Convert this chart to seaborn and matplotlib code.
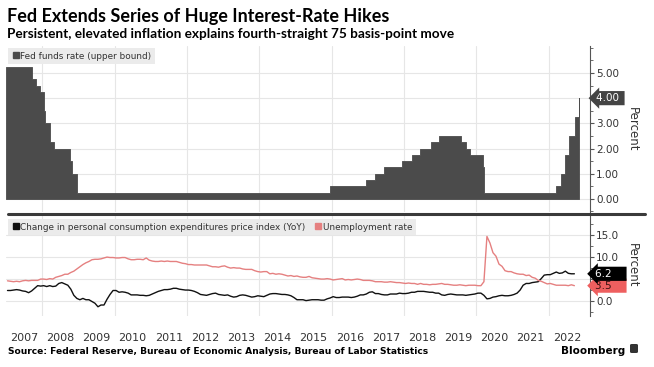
import numpy as np
import pandas as pd
import matplotlib
matplotlib.use("Agg")
import matplotlib.pyplot as plt
import matplotlib.transforms as mtransforms
from matplotlib.lines import Line2D
from matplotlib.patches import FancyBboxPatch
import seaborn as sns

# ---------------- data ----------------
title = "Fed Extends Series of Huge Interest-Rate Hikes"
subtitle = "Persistent, elevated inflation explains fourth-straight 75 basis-point move"
source = "Source: Federal Reserve, Bureau of Economic Analysis, Bureau of Labor Statistics"

fed_dates = ["2007-01-01", "2007-09-18", "2007-10-31", "2007-12-11", "2008-01-22",
             "2008-01-30", "2008-03-18", "2008-04-30", "2008-10-08", "2008-10-29",
             "2008-12-16", "2015-12-16", "2016-12-14", "2017-03-15", "2017-06-14",
             "2017-12-13", "2018-03-21", "2018-06-13", "2018-09-26", "2018-12-19",
             "2019-07-31", "2019-09-18", "2019-10-30", "2020-03-03", "2020-03-15",
             "2022-03-16", "2022-05-04", "2022-06-15", "2022-07-27", "2022-09-21",
             "2022-11-02", "2022-11-04"]
fed_rates = [5.25, 4.75, 4.50, 4.25, 3.50,
             3.00, 2.25, 2.00, 1.50, 1.00,
             0.25, 0.50, 0.75, 1.00, 1.25,
             1.50, 1.75, 2.00, 2.25, 2.50,
             2.25, 2.00, 1.75, 1.25, 0.25,
             0.50, 1.00, 1.75, 2.50, 3.25,
             4.00, 4.00]

monthly_start = "2007-01"
unemployment = [
    4.6, 4.5, 4.4, 4.5, 4.4, 4.6, 4.7, 4.6, 4.7, 4.7, 4.7, 5.0,   # 2007
    5.0, 4.9, 5.1, 5.0, 5.4, 5.6, 5.8, 6.1, 6.1, 6.5, 6.8, 7.3,   # 2008
    7.8, 8.3, 8.7, 9.0, 9.4, 9.5, 9.5, 9.6, 9.8, 10.0, 9.9, 9.9,  # 2009
    9.8, 9.8, 9.9, 9.9, 9.6, 9.4, 9.4, 9.5, 9.5, 9.4, 9.8, 9.3,   # 2010
    9.1, 9.0, 9.0, 9.1, 9.0, 9.1, 9.0, 9.0, 9.0, 8.8, 8.6, 8.5,   # 2011
    8.3, 8.3, 8.2, 8.2, 8.2, 8.2, 8.2, 8.0, 7.8, 7.8, 7.7, 7.9,   # 2012
    8.0, 7.7, 7.5, 7.6, 7.5, 7.5, 7.3, 7.2, 7.2, 7.2, 6.9, 6.7,   # 2013
    6.6, 6.7, 6.7, 6.2, 6.3, 6.1, 6.2, 6.1, 5.9, 5.7, 5.8, 5.6,   # 2014
    5.7, 5.5, 5.4, 5.4, 5.6, 5.3, 5.2, 5.1, 5.0, 5.0, 5.1, 5.0,   # 2015
    4.8, 4.9, 5.0, 5.1, 4.8, 4.9, 4.8, 4.9, 5.0, 4.9, 4.7, 4.7,   # 2016
    4.7, 4.6, 4.4, 4.4, 4.4, 4.3, 4.3, 4.4, 4.3, 4.2, 4.2, 4.1,   # 2017
    4.0, 4.1, 4.0, 4.0, 3.8, 4.0, 3.8, 3.8, 3.7, 3.8, 3.8, 3.9,   # 2018
    4.0, 3.8, 3.8, 3.7, 3.6, 3.6, 3.7, 3.6, 3.5, 3.6, 3.6, 3.6,   # 2019
    3.5, 3.5, 4.4, 14.7, 13.2, 11.0, 10.2, 8.4, 7.9, 6.9, 6.7, 6.7,  # 2020
    6.4, 6.2, 6.1, 6.1, 5.8, 5.9, 5.4, 5.2, 4.7, 4.5, 4.2, 3.9,   # 2021
    4.0, 3.8, 3.6, 3.6, 3.6, 3.6, 3.5, 3.7, 3.5,                  # 2022
]
pce_yoy = [
    2.4, 2.4, 2.5, 2.6, 2.5, 2.3, 2.2, 1.9, 2.3, 2.9, 3.5, 3.4,   # 2007
    3.5, 3.3, 3.5, 3.3, 3.4, 4.0, 4.2, 3.9, 3.6, 2.7, 1.3, 0.6,   # 2008
    0.3, 0.6, 0.3, 0.3, -0.1, -0.5, -1.3, -0.9, -0.9, 0.4, 1.5, 2.4,  # 2009
    2.4, 2.0, 2.1, 2.0, 1.8, 1.4, 1.4, 1.4, 1.3, 1.3, 1.2, 1.3,   # 2010
    1.6, 1.9, 2.2, 2.4, 2.6, 2.6, 2.7, 2.9, 2.9, 2.7, 2.6, 2.5,   # 2011
    2.5, 2.4, 2.2, 1.9, 1.5, 1.4, 1.3, 1.5, 1.7, 1.8, 1.5, 1.4,   # 2012
    1.3, 1.4, 1.1, 0.9, 1.0, 1.3, 1.4, 1.3, 1.1, 0.9, 1.0, 1.2,   # 2013
    1.1, 1.0, 1.3, 1.6, 1.7, 1.7, 1.6, 1.5, 1.5, 1.4, 1.2, 0.8,   # 2014
    0.3, 0.3, 0.3, 0.1, 0.2, 0.3, 0.3, 0.3, 0.2, 0.2, 0.5, 0.7,   # 2015
    1.0, 0.8, 0.8, 0.9, 0.9, 0.9, 0.8, 0.9, 1.1, 1.4, 1.4, 1.6,   # 2016
    2.0, 2.1, 1.7, 1.7, 1.5, 1.4, 1.4, 1.6, 1.6, 1.6, 1.8, 1.7,   # 2017
    1.7, 1.8, 2.0, 2.0, 2.2, 2.2, 2.2, 2.1, 2.0, 2.0, 1.8, 1.8,   # 2018
    1.4, 1.3, 1.5, 1.6, 1.5, 1.4, 1.4, 1.4, 1.3, 1.4, 1.5, 1.6,   # 2019
    1.8, 1.8, 1.3, 0.5, 0.6, 0.9, 1.0, 1.2, 1.3, 1.2, 1.2, 1.3,   # 2020
    1.5, 1.8, 2.5, 3.6, 4.0, 4.0, 4.2, 4.3, 4.4, 5.1, 5.9, 6.0,   # 2021
    6.0, 6.3, 6.6, 6.3, 6.4, 6.8, 6.3, 6.2, 6.2,                  # 2022
]

year_labels = [str(y) for y in range(2007, 2023)]
fed_label = "Fed funds rate (upper bound)"
pce_label = "Change in personal consumption expenditures price index (YoY)"
unemp_label = "Unemployment rate"
top_ticks = [0, 1, 2, 3, 4, 5]
top_tick_labels = ["0.00", "1.00", "2.00", "3.00", "", "5.00"]
bottom_ticks = [0, 5, 10, 15]
bottom_tick_labels = ["0.0", "", "10.0", "15.0"]

# ---------------- helpers ----------------
def to_decimal_year(dates):
    idx = pd.DatetimeIndex(pd.to_datetime(dates))
    days = np.where(idx.is_leap_year, 366, 365)
    return np.asarray(idx.year + (idx.dayofyear - 1) / days, dtype=float)

fed_df = pd.DataFrame({"x": to_decimal_year(fed_dates), "rate": fed_rates})

months = pd.period_range(monthly_start, periods=len(unemployment), freq="M")
mx = np.array([p.year + (p.month - 0.5) / 12 for p in months])
line_df = pd.concat([
    pd.DataFrame({"x": mx, "value": pce_yoy, "series": pce_label}),
    pd.DataFrame({"x": mx, "value": unemployment, "series": unemp_label}),
], ignore_index=True)

# ---------------- style ----------------
sns.set_style("white")
plt.rcParams["font.family"] = ["DejaVu Sans"]

BAR = "#4b4b4b"
PCE = "#111111"
UNEMP = "#e58080"
UNEMP_TAG = "#ee5f5f"
GRID = "#e6e6e6"
AX = "#555555"
TXT = "#333333"
HEAD_FONT = ["Lato", "DejaVu Sans"]

W, H = 654, 367
fig = plt.figure(figsize=(W / 100, H / 100), dpi=100)
fig.patch.set_facecolor("white")

L, R = 6, 590
ax1 = fig.add_axes([L / W, 1 - 212 / H, (R - L) / W, 166 / H])
ax2 = fig.add_axes([L / W, 1 - 316 / H, (R - L) / W, 102 / H])

xmin, xmax = 2007.0, 2023.14
for ax in (ax1, ax2):
    ax.set_xlim(xmin, xmax)
    for s in ("top", "left", "bottom"):
        ax.spines[s].set_visible(False)
    ax.spines["right"].set_color(AX)
    ax.spines["right"].set_linewidth(0.8)
    ax.yaxis.tick_right()
    ax.yaxis.set_label_position("right")
    ax.set_xticks(list(range(2008, 2023, 2)))
    ax.set_xticks([y + 0.5 for y in range(2007, 2023)], minor=True)
    ax.tick_params(axis="x", which="both", length=0)
    ax.grid(True, which="major", color=GRID, linewidth=0.8)
    ax.set_axisbelow(True)
    ax.tick_params(axis="y", which="major", direction="out", length=3,
                   color=AX, labelsize=7.5, labelcolor=TXT, pad=1.5, width=0.8)
    ax.tick_params(axis="y", which="minor", direction="out", length=2,
                   color=AX, width=0.6)
    ax.set_xlabel("")

# ---- top panel: fed funds step area ----
ax1.fill_between(fed_df["x"], fed_df["rate"], step="post", facecolor=BAR,
                 edgecolor=BAR, linewidth=0.6)
ax1.set_ylim(-0.52, 6.07)
ax1.set_yticks(top_ticks)
ax1.set_yticklabels(top_tick_labels)
ax1.set_yticks(np.arange(-0.5, 6.01, 0.5), minor=True)
ax1.tick_params(axis="x", labelbottom=False)
ax1.set_ylabel("Percent", rotation=270, fontsize=8.5, color=TXT, labelpad=14)

h1 = [Line2D([], [], marker="s", linestyle="none", color=BAR, markersize=4.5)]
leg1 = ax1.legend(h1, [fed_label], loc="upper left",
                  bbox_to_anchor=(2 / (R - L), 1 - 2 / 166), frameon=True,
                  facecolor="#ebebeb", edgecolor="none", framealpha=1,
                  fancybox=False, fontsize=6.4, handletextpad=0.1,
                  handlelength=0.9, borderpad=0.4, borderaxespad=0)
for t in leg1.get_texts():
    t.set_color(TXT)

# ---- bottom panel: lines ----
sns.lineplot(data=line_df, x="x", y="value", hue="series",
             palette={pce_label: PCE, unemp_label: UNEMP},
             estimator=None, linewidth=1.0, legend=False, ax=ax2)
ax2.set_xlabel("")
ax2.set_ylim(-3.4, 19.8)
ax2.set_yticks(bottom_ticks)
ax2.set_yticklabels(bottom_tick_labels)
ax2.set_yticks(np.arange(-2.5, 19.9, 2.5), minor=True)
ax2.set_xticklabels(year_labels, minor=True)
ax2.set_xticklabels([])
ax2.tick_params(axis="x", which="minor", labelsize=8, labelcolor=TXT, pad=12)
ax2.set_ylabel("Percent", rotation=270, fontsize=8.5, color=TXT, labelpad=14)

h2 = [Line2D([], [], marker="s", linestyle="none", color=PCE, markersize=4.5),
      Line2D([], [], marker="s", linestyle="none", color=UNEMP, markersize=4.5)]
leg2 = ax2.legend(h2, [pce_label, unemp_label], loc="upper left", ncol=2,
                  bbox_to_anchor=(2 / (R - L), 1 - 5 / 102), frameon=True,
                  facecolor="#ebebeb", edgecolor="none", framealpha=1,
                  fancybox=False, fontsize=6.4, handletextpad=0.1,
                  handlelength=0.9, borderpad=0.4, borderaxespad=0,
                  columnspacing=0.9)
for t in leg2.get_texts():
    t.set_color(TXT)

# ---- value tags on the right axis ----
def tag(ax, y, text, fc, tc, dx):
    tr = mtransforms.blended_transform_factory(ax.transAxes, ax.transData)
    ax.annotate(text, xy=(1, y), xycoords=tr, xytext=(dx, 0),
                textcoords="offset points", ha="left", va="center",
                fontsize=7.5, color=tc, annotation_clip=False, zorder=10,
                bbox=dict(boxstyle="larrow,pad=0.2", fc=fc, ec="none"))

tag(ax1, fed_rates[-1], "4.00 ", "#444444", "white", 4.5)
tag(ax2, unemployment[-1], "3.5    ", UNEMP_TAG, "#3a1010", 3.5)
tag(ax2, pce_yoy[-1], "6.2    ", "#000000", "white", 3.5)

# ---- separator ----
fig.add_artist(Line2D([8 / W, 645 / W], [1 - 213.5 / H] * 2,
                      transform=fig.transFigure, color="#3a3a3a", lw=2.2))

# ---- titles and footer ----
fig.text(7 / W, 1 - 22 / H, title, fontsize=13, fontweight="bold",
         family=HEAD_FONT, color="black", va="baseline")
fig.text(7 / W, 1 - 38 / H, subtitle, fontsize=9.8, fontweight="bold",
         family=HEAD_FONT, color="black", va="baseline")
fig.text(8 / W, 1 - 354 / H, source, fontsize=6.6, fontweight="bold",
         color="black", va="baseline")
fig.text(625 / W, 1 - 354 / H, "Bloomberg", fontsize=7.5, fontweight="bold",
         color="black", va="baseline", ha="right")
fig.add_artist(FancyBboxPatch((630 / W, 1 - 353 / H), 8 / W, 9 / H,
                              boxstyle="round,pad=0,rounding_size=0.003",
                              transform=fig.transFigure, fc="#333333", ec="none"))

fig.savefig("out.png", dpi=100)
